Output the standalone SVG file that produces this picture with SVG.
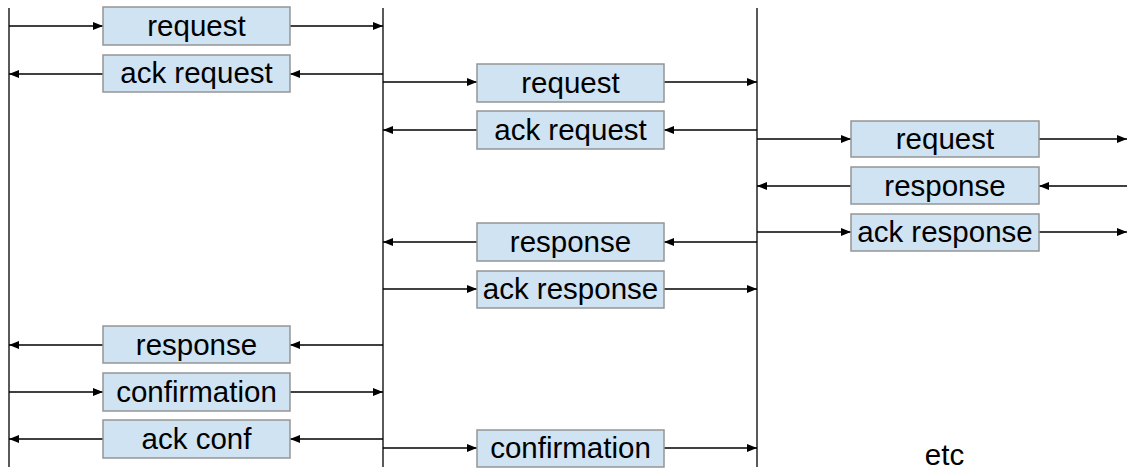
<svg xmlns="http://www.w3.org/2000/svg" width="1127" height="472" viewBox="0 0 1127 472">
<style>
.box{fill:#cfe3f3;stroke:#959595;stroke-width:1.5}
.lbl{font-family:"Liberation Sans",Arial,sans-serif;font-size:29.5px;fill:#000;text-anchor:middle}
.ln{stroke:#000;stroke-width:1.3;fill:none}
.ar{stroke:#000;stroke-width:1.3;fill:none;marker-end:url(#ah)}
</style>
<defs>
<marker id="ah" markerUnits="userSpaceOnUse" markerWidth="10" markerHeight="8" refX="10" refY="4" orient="auto">
<path d="M0,0 L10,4 L0,8 z" fill="#000"/>
</marker>
</defs>
<g id="lifelines">
<line class="ln" x1="9" y1="8" x2="9" y2="467"/>
<line class="ln" x1="383" y1="8" x2="383" y2="467"/>
<line class="ln" x1="757" y1="8" x2="757" y2="467"/>
</g>
<g id="connectors">
<line class="ar" x1="9" y1="26" x2="103" y2="26"/>
<line class="ar" x1="290" y1="26" x2="383" y2="26"/>
<line class="ar" x1="383" y1="74" x2="290" y2="74"/>
<line class="ar" x1="103" y1="74" x2="9" y2="74"/>
<line class="ar" x1="383" y1="82" x2="477" y2="82"/>
<line class="ar" x1="664" y1="82" x2="757" y2="82"/>
<line class="ar" x1="757" y1="130" x2="664" y2="130"/>
<line class="ar" x1="477" y1="130" x2="383" y2="130"/>
<line class="ar" x1="757" y1="139" x2="851" y2="139"/>
<line class="ar" x1="1039" y1="139" x2="1127" y2="139"/>
<line class="ar" x1="1127" y1="186" x2="1039" y2="186"/>
<line class="ar" x1="851" y1="186" x2="757" y2="186"/>
<line class="ar" x1="757" y1="232" x2="851" y2="232"/>
<line class="ar" x1="1039" y1="232" x2="1127" y2="232"/>
<line class="ar" x1="757" y1="242" x2="664" y2="242"/>
<line class="ar" x1="477" y1="242" x2="383" y2="242"/>
<line class="ar" x1="383" y1="289" x2="477" y2="289"/>
<line class="ar" x1="664" y1="289" x2="757" y2="289"/>
<line class="ar" x1="383" y1="345" x2="290" y2="345"/>
<line class="ar" x1="103" y1="345" x2="9" y2="345"/>
<line class="ar" x1="9" y1="392" x2="103" y2="392"/>
<line class="ar" x1="290" y1="392" x2="383" y2="392"/>
<line class="ar" x1="383" y1="439" x2="290" y2="439"/>
<line class="ar" x1="103" y1="439" x2="9" y2="439"/>
<line class="ar" x1="383" y1="448" x2="477" y2="448"/>
<line class="ar" x1="664" y1="448" x2="757" y2="448"/>
</g>
<g id="n1-request"><rect class="box" x="103" y="7" width="187" height="38"/><text class="lbl" x="196.5" y="36">request</text></g>
<g id="n1-ack-request"><rect class="box" x="103" y="55" width="187" height="37"/><text class="lbl" x="196.5" y="83">ack request</text></g>
<g id="n2-request"><rect class="box" x="477" y="64" width="187" height="38"/><text class="lbl" x="570.5" y="93">request</text></g>
<g id="n2-ack-request"><rect class="box" x="477" y="111" width="187" height="38"/><text class="lbl" x="570.5" y="140">ack request</text></g>
<g id="n3-request"><rect class="box" x="851" y="121" width="188" height="36"/><text class="lbl" x="945" y="149">request</text></g>
<g id="n3-response"><rect class="box" x="851" y="167" width="188" height="37"/><text class="lbl" x="945" y="196">response</text></g>
<g id="n3-ack-response"><rect class="box" x="851" y="214" width="188" height="37"/><text class="lbl" x="945" y="242">ack response</text></g>
<g id="n2-response"><rect class="box" x="477" y="223" width="187" height="38"/><text class="lbl" x="570.5" y="252">response</text></g>
<g id="n2-ack-response"><rect class="box" x="477" y="271" width="187" height="37"/><text class="lbl" x="570.5" y="299">ack response</text></g>
<g id="n1-response"><rect class="box" x="103" y="326" width="187" height="37"/><text class="lbl" x="196.5" y="355">response</text></g>
<g id="n1-confirmation"><rect class="box" x="103" y="373" width="187" height="38"/><text class="lbl" x="196.5" y="402">confirmation</text></g>
<g id="n1-ack-conf"><rect class="box" x="103" y="420" width="187" height="38"/><text class="lbl" x="196.5" y="449">ack conf</text></g>
<g id="n2-confirmation"><rect class="box" x="477" y="430" width="187" height="37"/><text class="lbl" x="570.5" y="458">confirmation</text></g>
<text id="etc" class="lbl" x="944.5" y="465">etc</text>
</svg>
